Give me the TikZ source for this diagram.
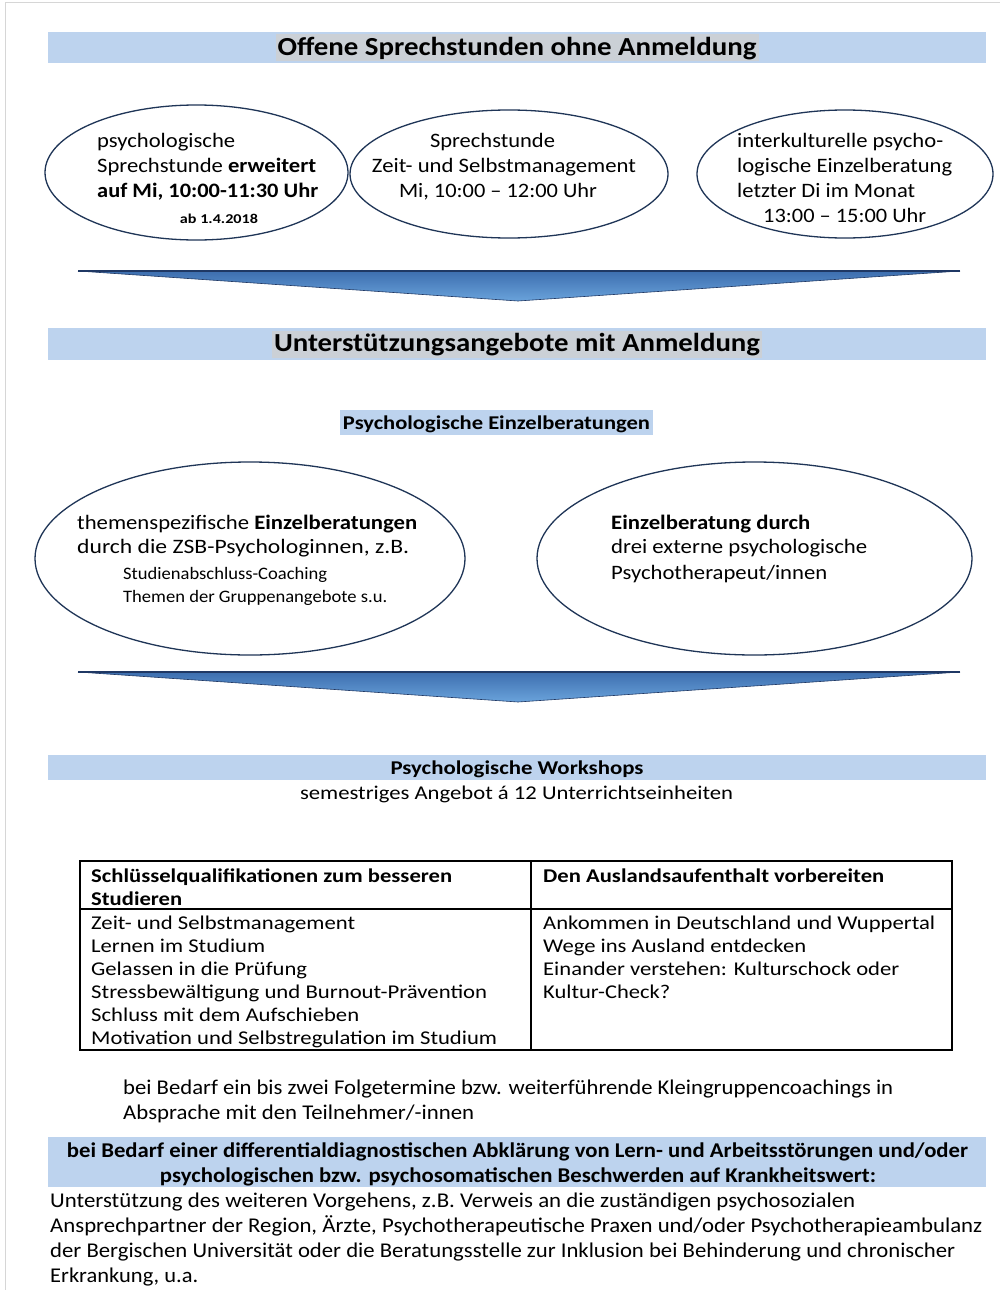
\documentclass[tikz,border=0pt]{standalone}
\usepackage{fontspec}
\setmainfont{Carlito}
\usepackage{graphicx}
\usetikzlibrary{shapes.geometric}
\definecolor{barblue}{HTML}{BDD3EE}
\definecolor{hlgray}{HTML}{CBD0D6}
\definecolor{ellline}{HTML}{1F3557}
\definecolor{arrtop}{HTML}{3D6EAF}
\definecolor{arrbot}{HTML}{6AA3DB}
\definecolor{arredge}{HTML}{1F3864}
\definecolor{framegray}{HTML}{D6D6D6}
\newcommand\Ln[6]{\node[#1] (#2) at (#3,#4) {\resizebox{#5pt}{\height}{#6}};}
\tikzset{
  tx/.style={inner sep=0pt, text height=0.66em, text depth=0pt, yshift=-4pt},
  lt/.style={tx, anchor=west},
  ct/.style={tx, anchor=center},
  fH/.style={font=\fontsize{26}{30}\selectfont\bfseries},
  fE/.style={font=\fontsize{20.5}{25}\selectfont},
  fS/.style={font=\fontsize{13.5}{16}\selectfont},
  fM/.style={font=\fontsize{17.5}{21}\selectfont},
  fW/.style={font=\fontsize{19.5}{23}\selectfont},
  fT/.style={font=\fontsize{19.5}{23}\selectfont},
  fB/.style={font=\fontsize{21}{25}\selectfont},
  oval/.style={ellipse, draw=ellline, line width=1.3pt, inner sep=0pt},
  bar/.style={fill=barblue, draw=none, inner sep=0pt},
  hl/.style={fill=hlgray, draw=none, inner sep=0pt},
  arr/.style={top color=arrtop, bottom color=arrbot, draw=none},
  arrline/.style={draw=arredge, line width=1.6pt},
  arrside/.style={draw=arredge, line width=0.6pt},
  tline/.style={draw=black, line width=1.3pt}
}
\begin{document}
\begin{tikzpicture}[x=1pt,y=-1pt]
\useasboundingbox (0,0) rectangle (1000,1290);
\fill[white] (0,0) rectangle (1000,1290);
\draw[framegray, line width=1pt] (5,1290) -- (5,3) -- (1000,3);

% header 1
\node[bar, minimum width=938pt, minimum height=31pt] (bar1) at (517,48) {};
\node[hl, minimum width=483pt, minimum height=27pt] (hl1) at (517,48) {};
\Ln{ct,fH}{h1}{517}{48}{479}{Offene Sprechstunden ohne Anmeldung}

% row 1 ellipses
\node[oval, minimum width=303pt, minimum height=135pt] (e1) at (196.5,172.5) {};
\node[oval, minimum width=318pt, minimum height=128pt] (e2) at (509,174) {};
\node[oval, minimum width=296pt, minimum height=128pt] (e3) at (845,174) {};

\Ln{lt,fE}{e1a}{97}{140}{138}{psychologische}
\Ln{lt,fE}{e1b}{97}{165}{219}{Sprechstunde \textbf{erweitert}}
\Ln{lt,fE}{e1c}{97}{190}{221}{\textbf{auf Mi, 10:00-11:30 Uhr}}
\Ln{ct,fS}{e1d}{219}{216}{78}{\textbf{ab 1.4.2018}}

\Ln{ct,fE}{e2a}{492.5}{140}{125}{Sprechstunde}
\Ln{ct,fE}{e2b}{504}{165}{264}{Zeit- und Selbstmanagement}
\Ln{ct,fE}{e2c}{498}{190}{198}{Mi, 10:00 – 12:00 Uhr}

\Ln{lt,fE}{e3a}{737}{140}{206}{interkulturelle psycho-}
\Ln{lt,fE}{e3b}{737}{165}{215}{logische Einzelberatung}
\Ln{lt,fE}{e3c}{737}{190}{178}{letzter Di im Monat}
\Ln{lt,fE}{e3d}{763}{215}{163}{13:00 – 15:00 Uhr}

% arrow 1
\coordinate (a1l) at (78,271);
\coordinate (a1r) at (960,271);
\coordinate (a1t) at (518,301);
\shade[arr] (a1l) -- (a1r) -- (a1t) -- cycle;
\draw[arrside] (a1r) -- (a1t) -- (a1l);
\draw[arrline] (a1l) -- (a1r);

% header 2
\node[bar, minimum width=938pt, minimum height=32pt] (bar2) at (517,344) {};
\node[hl, minimum width=490pt, minimum height=27pt] (hl2) at (517,344) {};
\Ln{ct,fH}{h2}{517}{344}{486}{Unterstützungsangebote mit Anmeldung}

\node[bar, minimum width=313pt, minimum height=25pt] (bar2b) at (496.5,422.5) {};
\Ln{ct,fW}{h2b}{496.5}{422}{307}{\textbf{Psychologische Einzelberatungen}}

% row 2 ellipses
\node[oval, minimum width=430pt, minimum height=193pt] (e4) at (250,558.5) {};
\node[oval, minimum width=435pt, minimum height=193pt] (e5) at (754.5,558.5) {};

\Ln{lt,fE}{e4a}{77}{522}{340}{themenspezifische \textbf{Einzelberatungen}}
\Ln{lt,fE}{e4b}{77}{546}{332}{durch die ZSB-Psychologinnen, z.B.}
\Ln{lt,fM}{e4c}{123}{572}{204}{Studienabschluss-Coaching}
\Ln{lt,fM}{e4d}{123}{595}{264}{Themen der Gruppenangebote s.u.}

\Ln{lt,fE}{e5a}{611}{522}{199}{\textbf{Einzelberatung durch}}
\Ln{lt,fE}{e5b}{611}{546}{256}{drei externe psychologische}
\Ln{lt,fE}{e5c}{611}{572}{216}{Psychotherapeut/innen}

% arrow 2
\coordinate (a2l) at (78,672);
\coordinate (a2r) at (960,672);
\coordinate (a2t) at (518,702);
\shade[arr] (a2l) -- (a2r) -- (a2t) -- cycle;
\draw[arrside] (a2r) -- (a2t) -- (a2l);
\draw[arrline] (a2l) -- (a2r);

% header 3
\node[bar, minimum width=938pt, minimum height=25pt] (bar3) at (517,767.5) {};
\Ln{ct,fW}{h3}{517}{767}{253}{\textbf{Psychologische Workshops}}
\Ln{ct,fW}{h3b}{516.5}{792}{433}{semestriges Angebot á 12 Unterrichtseinheiten}

% table
\coordinate (tl) at (80,861);
\coordinate (br) at (952,1050);
\draw[tline] (tl) rectangle (br);
\draw[tline] (80,909) -- (952,909);
\draw[tline] (531,861) -- (531,1050);

\Ln{lt,fT}{t1}{91}{875}{361}{\textbf{Schlüsselqualifikationen zum besseren}}
\Ln{lt,fT}{t2}{91}{898}{91}{\textbf{Studieren}}
\Ln{lt,fT}{t3}{543}{875}{341}{\textbf{Den Auslandsaufenthalt vorbereiten}}

\Ln{lt,fT}{l1}{91}{922}{264}{Zeit- und Selbstmanagement}
\Ln{lt,fT}{l2}{91}{945}{174}{Lernen im Studium}
\Ln{lt,fT}{l3}{91}{968}{216}{Gelassen in die Prüfung}
\Ln{lt,fT}{l4}{91}{991}{396}{Stressbewältigung und Burnout-Prävention}
\Ln{lt,fT}{l5}{91}{1014}{268}{Schluss mit dem Aufschieben}
\Ln{lt,fT}{l6}{91}{1037}{406}{Motivation und Selbstregulation im Studium}

\Ln{lt,fT}{r1}{543}{922}{392}{Ankommen in Deutschland und Wuppertal}
\Ln{lt,fT}{r2}{543}{945}{263}{Wege ins Ausland entdecken}
\Ln{lt,fT}{r3}{543}{968}{356}{Einander verstehen: Kulturschock oder}
\Ln{lt,fT}{r4}{543}{991}{127}{Kultur-Check?}

% follow-up text
\Ln{lt,fB}{f1}{123}{1087}{770}{bei Bedarf ein bis zwei Folgetermine bzw. weiterführende Kleingruppencoachings in}
\Ln{lt,fB}{f2}{123}{1112}{351}{Absprache mit den Teilnehmer/-innen}

% bar 4
\node[bar, minimum width=938pt, minimum height=50pt] (bar4) at (517,1162) {};
\Ln{ct,fB}{b1}{517.5}{1150}{901}{\textbf{bei Bedarf einer differentialdiagnostischen Abklärung von Lern- und Arbeitsstörungen und/oder}}
\Ln{ct,fB}{b2}{518}{1175}{716}{\textbf{psychologischen bzw. psychosomatischen Beschwerden auf Krankheitswert:}}

\Ln{lt,fB}{p1}{50}{1200}{805}{Unterstützung des weiteren Vorgehens, z.B. Verweis an die zuständigen psychosozialen}
\Ln{lt,fB}{p2}{50}{1225}{932}{Ansprechpartner der Region, Ärzte, Psychotherapeutische Praxen und/oder Psychotherapieambulanz}
\Ln{lt,fB}{p3}{50}{1250}{905}{der Bergischen Universität oder die Beratungsstelle zur Inklusion bei Behinderung und chronischer}
\Ln{lt,fB}{p4}{50}{1275}{148}{Erkrankung, u.a.}
\end{tikzpicture}
\end{document}
